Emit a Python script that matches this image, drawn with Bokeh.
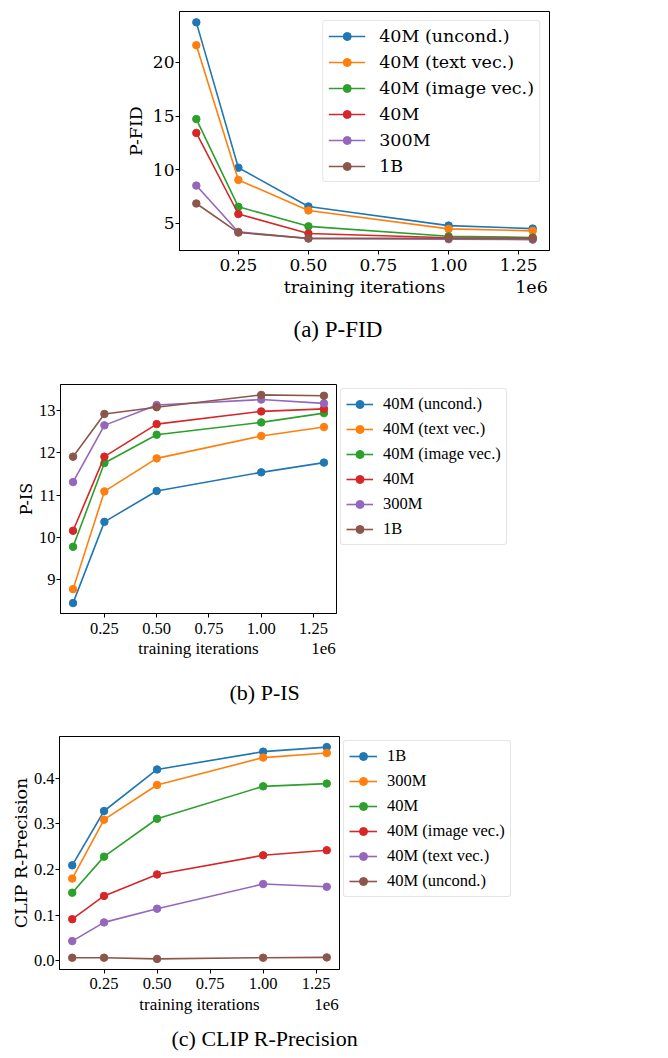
from bokeh.embed import file_html
from bokeh.models import FixedTicker, Legend, LegendItem, LinearAxis, NumeralTickFormatter, Range1d, Title
from bokeh.plotting import figure
from bokeh.resources import INLINE

# training iterations (x 1e6)
iters = [0.1, 0.25, 0.5, 1.0, 1.3]
x_ticks = [0.25, 0.5, 0.75, 1.0, 1.25]

tab10 = ["#1f77b4", "#ff7f0e", "#2ca02c", "#d62728", "#9467bd", "#8c564b"]

# (a) P-FID
fid_names = ["40M (uncond.)", "40M (text vec.)", "40M (image vec.)", "40M", "300M", "1B"]
fid_uncond = [23.74, 10.19, 6.57, 4.79, 4.51]
fid_text = [21.61, 9.05, 6.20, 4.48, 4.30]
fid_image = [14.72, 6.54, 4.72, 3.80, 3.68]
fid_40m = [13.43, 5.87, 4.05, 3.65, 3.60]
fid_300m = [8.52, 4.20, 3.58, 3.52, 3.48]
fid_1b = [6.85, 4.14, 3.60, 3.60, 3.57]
fid_yticks = [5, 10, 15, 20]

# (b) P-IS
is_names = ["40M (uncond.)", "40M (text vec.)", "40M (image vec.)", "40M", "300M", "1B"]
is_uncond = [8.45, 10.37, 11.10, 11.54, 11.77]
is_text = [8.78, 11.09, 11.87, 12.40, 12.61]
is_image = [9.78, 11.76, 12.43, 12.72, 12.94]
is_40m = [10.16, 11.91, 12.68, 12.98, 13.04]
is_300m = [11.31, 12.65, 13.13, 13.26, 13.17]
is_1b = [11.91, 12.92, 13.08, 13.37, 13.35]
is_yticks = [9, 10, 11, 12, 13]

# (c) CLIP R-Precision
clip_names = ["1B", "300M", "40M", "40M (image vec.)", "40M (text vec.)", "40M (uncond.)"]
clip_1b = [0.209, 0.328, 0.419, 0.458, 0.468]
clip_300m = [0.180, 0.309, 0.385, 0.445, 0.455]
clip_40m = [0.149, 0.228, 0.311, 0.382, 0.388]
clip_image = [0.091, 0.142, 0.189, 0.231, 0.242]
clip_text = [0.043, 0.084, 0.114, 0.168, 0.162]
clip_uncond = [0.0066, 0.0066, 0.004, 0.0066, 0.0073]
clip_yticks = [0.0, 0.1, 0.2, 0.3, 0.4]

SERIF = "DejaVu Serif"
TIMES = "Liberation Serif"


def padded(vals, frac=0.05):
    lo, hi = min(vals), max(vals)
    pad = (hi - lo) * frac
    return lo - pad, hi + pad


def make_panel(series, names, ylabel, yticks, yfmt, frame, borders,
               font, size, xlabel_size, ylabel_size, ylabel_standoff, exp_px,
               tick_standoff, label_standoff, caption, caption_size, caption_offset,
               caption_standoff):
    frame_w, frame_h = frame
    left, right, top, bottom = borders
    allv = [v for s in series for v in s]
    x0, x1 = padded(iters)
    y0, y1 = padded(allv)
    p = figure(frame_width=frame_w, frame_height=frame_h,
               x_range=Range1d(x0, x1), y_range=Range1d(y0, y1),
               output_backend="svg", toolbar_location=None,
               min_border_left=left, min_border_right=right,
               min_border_top=top, min_border_bottom=bottom)
    p.grid.visible = False
    p.outline_line_color = "black"
    p.outline_line_alpha = 1
    p.outline_line_width = 1

    p.xaxis.ticker = FixedTicker(ticks=x_ticks)
    p.xaxis.formatter = NumeralTickFormatter(format="0.00")
    p.yaxis.ticker = FixedTicker(ticks=yticks)
    p.yaxis.formatter = NumeralTickFormatter(format=yfmt)
    for ax in (p.xaxis[0], p.yaxis[0]):
        ax.axis_line_color = "black"
        ax.major_tick_line_color = "black"
        ax.minor_tick_line_color = None
        ax.major_tick_out = 4
        ax.major_tick_in = 0
        ax.major_label_text_font = font
        ax.major_label_text_font_size = size
        ax.major_label_text_color = "black"
        ax.axis_label_text_font_style = "normal"
        ax.axis_label_text_color = "black"
    p.xaxis.major_label_standoff = tick_standoff
    p.yaxis.major_label_standoff = 1
    p.yaxis.axis_label = ylabel
    p.yaxis.axis_label_text_font = SERIF
    p.yaxis.axis_label_text_font_size = ylabel_size
    p.yaxis.axis_label_standoff = ylabel_standoff

    # second, bare axis carrying "training iterations" and the "1e6" offset text
    xmid = (x0 + x1) / 2
    xexp = x1 - (x1 - x0) * exp_px / frame_w
    ax2 = LinearAxis(ticker=FixedTicker(ticks=[xmid, xexp]),
                     major_label_overrides={xmid: "training iterations", xexp: "1e6"})
    ax2.axis_line_color = None
    ax2.major_tick_line_color = None
    ax2.minor_tick_line_color = None
    ax2.major_tick_out = 0
    ax2.major_tick_in = 0
    ax2.major_label_standoff = label_standoff
    ax2.major_label_text_font = font
    ax2.major_label_text_font_size = xlabel_size
    ax2.major_label_text_color = "black"
    p.add_layout(ax2, "below")

    p.add_layout(Title(text=caption, align="left", offset=caption_offset,
                       standoff=caption_standoff, text_font=TIMES, text_font_size=caption_size,
                       text_font_style="normal", text_color="black"), "below")

    items = []
    for name, ys, color in zip(names, series, tab10):
        r1 = p.line(iters, ys, line_color=color, line_width=1.6)
        r2 = p.scatter(iters, ys, size=7.5, fill_color=color, line_color=color)
        items.append(LegendItem(label=name, renderers=[r1, r2]))
    return p, items


def style_legend(leg, font, size, glyph_w, standoff, row_h, spacing):
    leg.label_text_font = font
    leg.label_text_font_size = size
    leg.label_text_color = "black"
    leg.glyph_width = glyph_w
    leg.glyph_height = row_h
    leg.label_height = row_h
    leg.label_standoff = standoff
    leg.spacing = spacing
    leg.padding = 5
    leg.border_line_color = "#cccccc"
    leg.border_line_width = 1
    leg.background_fill_alpha = 0.8
    if "border_radius" in leg.properties():
        leg.border_radius = 3


# panel (a): canvas 11 + 239 + 110 = 360
pa, items_a = make_panel([fid_uncond, fid_text, fid_image, fid_40m, fid_300m, fid_1b],
                         fid_names, "P-FID", fid_yticks, "0", (370, 239), (179, 119, 11, 110),
                         SERIF, "17px", "17.5px", "17.5px", 4, 18,
                         4, 3, "(a) P-FID", "23px", 114, 30)
leg_a = Legend(items=items_a, location="top_right", margin=9)
style_legend(leg_a, SERIF, "17.5px", 37, 14, 20, 6)
pa.add_layout(leg_a)

# panel (b): canvas 24 + 229 + 110 = 363
pb, items_b = make_panel([is_uncond, is_text, is_image, is_40m, is_300m, is_1b],
                         is_names, "P-IS", is_yticks, "0", (276, 229), (60, 332, 24, 110),
                         TIMES, "16.5px", "17px", "16px", 0, 13,
                         5, 2, "(b) P-IS", "22px", 169, 34)
leg_b = Legend(items=items_b, location="top_left", margin=4)
style_legend(leg_b, TIMES, "16.5px", 27, 10, 20, 5)
pb.add_layout(leg_b, "right")

# panel (c)
pc, items_c = make_panel([clip_1b, clip_300m, clip_40m, clip_image, clip_text, clip_uncond],
                         clip_names, "CLIP R-Precision", clip_yticks, "0.0", (280, 233),
                         (59, 329, 13, 80), TIMES, "16.5px", "17px", "17.5px", 0, 13,
                         4, 3, "(c) CLIP R-Precision", "22px", 112, 14)
leg_c = Legend(items=items_c, location="top_left", margin=4)
style_legend(leg_c, TIMES, "16.5px", 28, 10, 20, 5)
pc.add_layout(leg_c, "right")

open("out.html", "w").write(file_html([pa, pb, pc], INLINE))
